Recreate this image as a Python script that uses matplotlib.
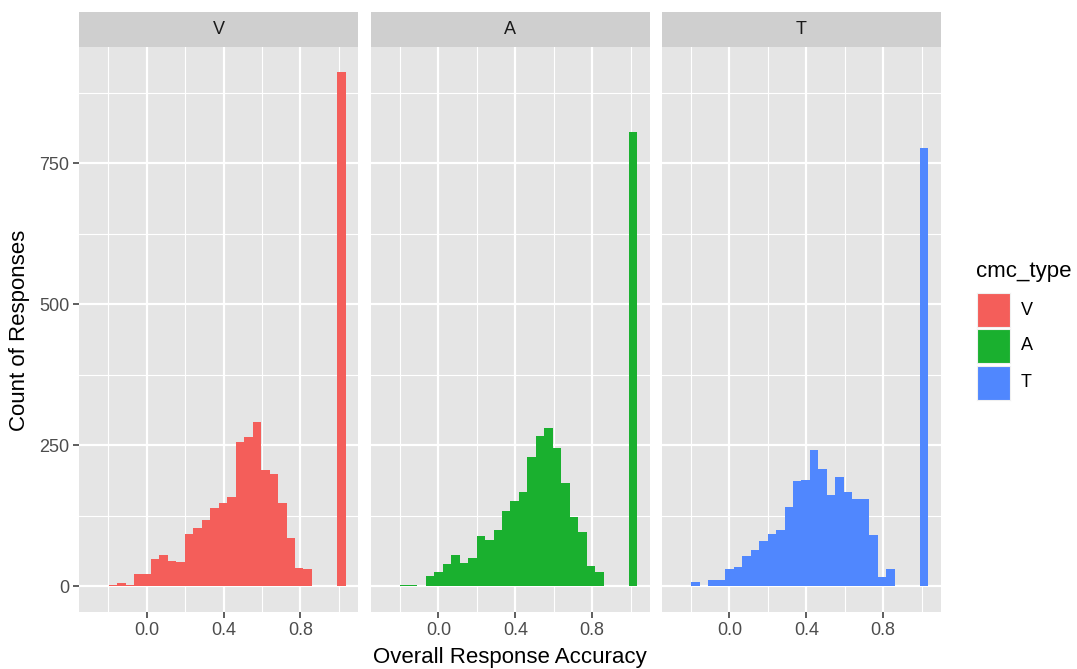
import numpy as np
import matplotlib
matplotlib.use("Agg")
from matplotlib import pyplot as plt

# ---- data ----
panels = ["V", "A", "T"]
colors = ["#F45E5A", "#1AB02F", "#5087FE"]

BIN_W = 0.0441
bin_index = np.arange(-6, 24)   # bins centred on multiples of the bin width

counts_v = [1, 0, 3, 6, 3, 22, 22, 48, 56, 45, 43, 92, 104, 118, 139, 148, 159,
            255, 264, 291, 207, 199, 147, 85, 32, 31, 0, 0, 0, 911]
counts_a = [0, 1, 3, 3, 1, 18, 26, 39, 56, 41, 50, 90, 82, 99, 133, 152, 167,
            230, 267, 281, 246, 184, 122, 96, 36, 25, 0, 0, 0, 805]
counts_t = [1, 1, 7, 1, 12, 12, 31, 35, 54, 65, 80, 92, 99, 141, 187, 189, 242,
            208, 161, 194, 168, 154, 155, 91, 17, 31, 0, 0, 0, 777]
all_counts = [counts_v, counts_a, counts_t]

x_major = [0.0, 0.4, 0.8]
x_minor = [-0.2, 0.2, 0.6, 1.0]
y_major = [0, 250, 500, 750]
y_minor = [125, 375, 625, 875]

# ---- figure layout (pixels) ----
W, H = 1077, 669
fig = plt.figure(figsize=(W / 100, H / 100), dpi=100)
plt.rcParams["font.family"] = ["Liberation Sans", "DejaVu Sans"]


def px_axes(x0, y0, x1, y1):
    """Axes from pixel box (top-left origin)."""
    return fig.add_axes([x0 / W, 1 - y1 / H, (x1 - x0) / W, (y1 - y0) / H])


panel_left = [79, 370.7, 661.7]
panel_w = 279.5
top, bottom, strip_top = 46.7, 612, 11.7

centers = bin_index * BIN_W
xmin, xmax = centers[0] - BIN_W / 2, centers[-1] + BIN_W / 2
xpad = 0.05 * (xmax - xmin)
ymax = max(max(c) for c in all_counts)

for i, (name, col, cnt) in enumerate(zip(panels, colors, all_counts)):
    x0 = panel_left[i]
    ax = px_axes(x0, top, x0 + panel_w, bottom)
    ax.set_facecolor("#E5E5E5")
    for s in ax.spines.values():
        s.set_visible(False)
    ax.set_xlim(xmin - xpad, xmax + xpad)
    ax.set_ylim(-0.05 * ymax, 1.05 * ymax)
    ax.set_xticks(x_major)
    ax.set_xticks(x_minor, minor=True)
    ax.set_yticks(y_major)
    ax.set_yticks(y_minor, minor=True)
    ax.grid(which="major", color="white", linewidth=1.6)
    ax.grid(which="minor", color="white", linewidth=0.8)
    ax.set_axisbelow(True)
    ax.bar(centers, cnt, width=BIN_W, color=col, linewidth=0, align="center")
    ax.tick_params(which="minor", length=0)
    ax.tick_params(which="major", length=4, width=1.1, color="#333333",
                   labelsize=13, labelcolor="#4D4D4D", pad=3)
    ax.set_xticklabels([f"{v:.1f}" for v in x_major])
    if i == 0:
        ax.set_yticklabels([str(v) for v in y_major])
    else:
        ax.tick_params(axis="y", left=False, labelleft=False)

    # strip
    sx = px_axes(x0, strip_top, x0 + panel_w, top)
    sx.set_facecolor("#CFCFCF")
    sx.set_xticks([])
    sx.set_yticks([])
    for s in sx.spines.values():
        s.set_visible(False)
    sx.text(0.5, 0.48, name, ha="center", va="center", fontsize=13,
            color="#1A1A1A", transform=sx.transAxes)

fig.text(510 / W, 1 - 657 / H, "Overall Response Accuracy", ha="center",
         va="center", fontsize=16, color="black")
fig.text(20 / W, 1 - 330 / H, "Count of Responses", ha="center", va="center",
         rotation=90, fontsize=16, color="black")

# legend
fig.text(976 / W, 1 - 272 / H, "cmc_type", ha="left", va="center",
         fontsize=16, color="black")
key_top = [293, 329, 365.5]
for name, col, ky in zip(panels, colors, key_top):
    kx = px_axes(976.7, ky, 1010, ky + 34)
    kx.set_facecolor(col)
    kx.set_xticks([])
    kx.set_yticks([])
    for s in kx.spines.values():
        s.set_edgecolor("#F0F0F0")
        s.set_linewidth(0.8)
    fig.text(1021 / W, 1 - (ky + 17) / H, name, ha="left", va="center",
             fontsize=13, color="black")

fig.savefig("out.png", dpi=100, facecolor="white")
